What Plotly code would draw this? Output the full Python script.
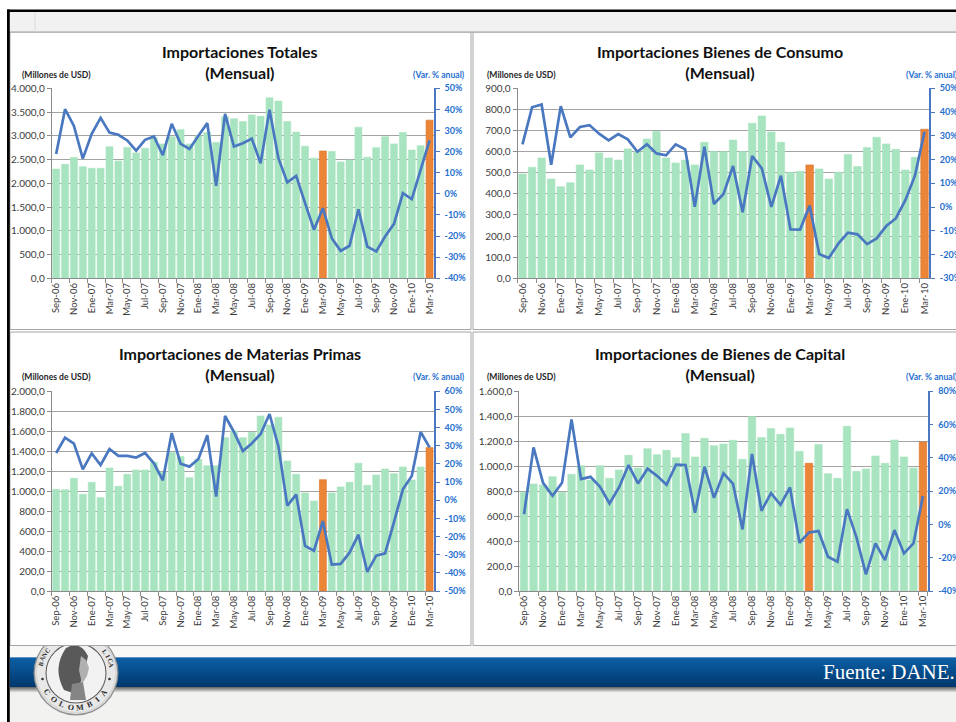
import math
import plotly.graph_objects as go

# ---------------------------------------------------------------- data
months = [
    "Sep-06", "Oct-06", "Nov-06", "Dic-06",
    "Ene-07", "Feb-07", "Mar-07", "Abr-07", "May-07", "Jun-07",
    "Jul-07", "Ago-07", "Sep-07", "Oct-07", "Nov-07", "Dic-07",
    "Ene-08", "Feb-08", "Mar-08", "Abr-08", "May-08", "Jun-08",
    "Jul-08", "Ago-08", "Sep-08", "Oct-08", "Nov-08", "Dic-08",
    "Ene-09", "Feb-09", "Mar-09", "Abr-09", "May-09", "Jun-09",
    "Jul-09", "Ago-09", "Sep-09", "Oct-09", "Nov-09", "Dic-09",
    "Ene-10", "Feb-10", "Mar-10",
]
highlight_months = ["Mar-09", "Mar-10"]

# Importaciones totales (millones de USD) y variación anual (%)
totales_usd = [2300, 2400, 2545, 2350, 2315, 2315, 2770, 2470, 2755, 2640,
               2740, 2960, 2830, 2980, 3130, 2830, 3000, 3070, 2860, 3400,
               3360, 3300, 3440, 3410, 3800, 3730, 3300, 3080, 2780, 2530,
               2680, 2670, 2450, 2490, 3180, 2550, 2750, 2980, 2830, 3070,
               2700, 2790, 3330]
totales_var = [18.9, 40.1, 32.2, 16.7, 28.4, 36.0, 29.0, 28.0, 25.3, 20.5,
               25.6, 27.2, 18.3, 33.2, 23.7, 21.3, 27.5, 33.5, 3.8, 37.9,
               22.4, 24.0, 26.2, 14.5, 39.8, 16.9, 5.4, 8.5, -4.4, -17.0,
               -6.8, -21.0, -27.0, -24.6, -7.3, -25.0, -27.3, -20.2, -14.2, 0.3,
               -2.5, 11.4, 25.3]

# Bienes de consumo
consumo_usd = [494, 526, 570, 470, 434, 453, 537, 513, 594, 570,
               560, 613, 600, 660, 695, 570, 546, 560, 537, 644,
               601, 600, 655, 600, 734, 769, 693, 644, 502, 507,
               537, 518, 470, 502, 587, 529, 619, 668, 636, 611,
               513, 573, 706]
consumo_var = [26.4, 42.0, 43.2, 17.8, 42.5, 29.3, 33.7, 34.5, 30.9, 28.1,
               30.7, 28.5, 23.3, 26.4, 22.6, 21.8, 26.4, 24.3, 0.1, 25.4,
               1.3, 5.5, 17.3, -2.2, 21.5, 16.3, 0.1, 13.2, -9.4, -9.5,
               0.6, -19.8, -21.5, -15.4, -10.8, -11.5, -15.6, -13.2, -8.0, -4.8,
               2.9, 13.2, 31.7]

# Materias primas
materias_usd = [1018, 1015, 1129, 968, 1088, 935, 1232, 1048, 1169, 1212,
                1212, 1289, 1190, 1386, 1346, 1135, 1319, 1255, 1255, 1536,
                1603, 1536, 1589, 1753, 1663, 1740, 1302, 1169, 982, 902,
                1115, 982, 1042, 1088, 1279, 1058, 1162, 1222, 1175, 1242,
                1112, 1242, 1436]
materias_var = [26.0, 34.5, 31.2, 17.0, 25.8, 19.4, 28.2, 24.4, 24.4, 23.5,
                26.0, 20.3, 11.0, 37.0, 20.1, 18.5, 22.7, 35.8, 2.0, 46.4,
                37.6, 27.1, 31.3, 36.5, 47.5, 29.7, -3.0, 3.1, -25.2, -27.8,
                -11.5, -35.5, -35.1, -28.9, -19.0, -39.5, -30.5, -29.3, -12.0, 6.0,
                13.4, 37.6, 29.1]

# Bienes de capital
capital_usd = [791, 857, 849, 916, 791, 935, 1004, 889, 1004, 903,
               970, 1087, 986, 1140, 1092, 1127, 1068, 1261, 1074, 1223,
               1164, 1178, 1207, 1055, 1397, 1229, 1301, 1255, 1306, 1119,
               1023, 1173, 940, 903, 1319, 959, 978, 1082, 1023, 1210,
               1074, 986, 1194]
capital_var = [6.2, 46.3, 25.0, 17.2, 25.0, 63.1, 27.2, 28.6, 22.6, 12.6,
               22.2, 35.7, 24.6, 33.5, 29.2, 23.8, 35.9, 35.7, 7.0, 34.7,
               16.0, 30.8, 24.4, -3.0, 42.3, 8.2, 18.8, 11.8, 22.2, -11.0,
               -4.8, -4.0, -19.4, -22.4, 9.2, -7.8, -30.0, -11.4, -21.4, -3.4,
               -17.4, -11.4, 17.0]

titles = [
    "Importaciones Totales",
    "Importaciones Bienes de Consumo",
    "Importaciones de Materias Primas",
    "Importaciones de Bienes de Capital",
]
subtitle = "(Mensual)"
left_label = "(Millones de USD)"
right_label = "(Var. % anual)"
source_text = "Fuente: DANE."

# ---------------------------------------------------------------- styling
W, H = 956, 722
GREEN = "#a8e4c0"
ORANGE = "#eb8538"
BLUE = "#4a78c0"
AXIS_BLUE = "#1f6fd0"
GRID = "#a3a3a3"
TXT = "#3c3c3c"
FONT = "Lato, 'Open Sans', sans-serif"


def fx(x):
    return x / W


def fy(y):
    return 1 - y / H


panels = [
    dict(bars=totales_usd, var=totales_var, left=(4000, 500), right=(-40, 50, 10),
         xdom=(51.7, 434.0), ydom=(88.3, 278.3), tx=240, ty=62, lx=20, ly=75,
         rx=467, ranchor="right"),
    dict(bars=consumo_usd, var=consumo_var, left=(900, 100), right=(-30, 50, 10),
         xdom=(517.7, 929.3), ydom=(88.3, 278.3), tx=720, ty=62, lx=485, ly=75,
         rx=904, ranchor="left"),
    dict(bars=materias_usd, var=materias_var, left=(2000, 200), right=(-50, 60, 10),
         xdom=(51.7, 434.0), ydom=(391.3, 591.0), tx=240, ty=364, lx=20, ly=377,
         rx=467, ranchor="right"),
    dict(bars=capital_usd, var=capital_var, left=(1600, 200), right=(-40, 80, 20),
         xdom=(519.3, 927.7), ydom=(391.3, 591.0), tx=720, ty=364, lx=485, ly=377,
         rx=904, ranchor="left"),
]

fig = go.Figure()
layout_axes = {}
annotations = []
bar_colors = [ORANGE if m in highlight_months else GREEN for m in months]
bar_edges = ["#d9702a" if m in highlight_months else GREEN for m in months]

for i, p in enumerate(panels):
    xa = "x" if i == 0 else f"x{i + 1}"
    yl = "y" if i == 0 else f"y{2 * i + 1}"
    yr = f"y{2 * i + 2}"
    xkey = "xaxis" if i == 0 else f"xaxis{i + 1}"
    ylkey = "yaxis" if i == 0 else f"yaxis{2 * i + 1}"
    yrkey = f"yaxis{2 * i + 2}"

    fig.add_trace(go.Bar(x=months, y=p["bars"], xaxis=xa, yaxis=yl,
                         marker=dict(color=bar_colors,
                                     line=dict(width=0.6, color=bar_edges)),
                         showlegend=False, hoverinfo="x+y"))
    fig.add_trace(go.Scatter(x=months, y=p["var"], xaxis=xa, yaxis=yr,
                             mode="lines", line=dict(color=BLUE, width=2.7),
                             showlegend=False, hoverinfo="x+y"))

    xdom = [fx(p["xdom"][0]), fx(p["xdom"][1])]
    ydom = [fy(p["ydom"][1]), fy(p["ydom"][0])]
    top, step = p["left"]
    lo, hi, rstep = p["right"]
    rvals = list(range(lo, hi + 1, rstep))

    layout_axes[xkey] = dict(
        domain=xdom, anchor=yl, type="category", range=[-0.5, len(months) - 0.5],
        tickmode="array", tickvals=months[::2], ticktext=months[::2],
        tickangle=-90, tickfont=dict(size=9.5, color=TXT, family=FONT),
        ticks="outside", ticklen=4, tickcolor="#8c8c8c", tickson="boundaries",
        showline=True, linecolor="#8c8c8c", linewidth=1, showgrid=False,
        automargin=False, fixedrange=True)
    layout_axes[ylkey] = dict(
        domain=ydom, anchor=xa, range=[0, top], tick0=0, dtick=step,
        tickformat=",.1f", tickfont=dict(size=10, color=TXT, family=FONT),
        ticks="outside", ticklen=4, tickcolor="#8c8c8c",
        showline=True, linecolor="#8c8c8c", linewidth=1,
        showgrid=True, gridcolor=GRID, gridwidth=1, zeroline=False,
        automargin=False, fixedrange=True)
    layout_axes[yrkey] = dict(
        overlaying=yl, side="right", anchor=xa, range=[lo, hi],
        tickmode="array", tickvals=rvals, ticktext=[f"{v}%" for v in rvals],
        tickfont=dict(size=9, color=AXIS_BLUE, family=FONT, weight="bold"),
        ticks="outside", ticklen=4, tickcolor=BLUE, ticklabelstandoff=3,
        showline=True, linecolor=BLUE, linewidth=1.5,
        showgrid=False, zeroline=False, automargin=False, fixedrange=True)

    annotations.append(dict(
        xref="paper", yref="paper", x=fx(p["tx"]), y=fy(p["ty"]),
        xanchor="center", yanchor="middle", showarrow=False,
        text=f"<b>{titles[i]}</b><br><b>{subtitle}</b>",
        font=dict(size=16, color="#111111", family=FONT)))
    annotations.append(dict(
        xref="paper", yref="paper", x=fx(p["lx"]), y=fy(p["ly"]),
        xanchor="left", yanchor="middle", showarrow=False,
        text=f"<b>{left_label}</b>", font=dict(size=8.6, color="#262626", family=FONT)))
    annotations.append(dict(
        xref="paper", yref="paper", x=fx(p["rx"]), y=fy(p["ly"]),
        xanchor=p["ranchor"], yanchor="middle", showarrow=False,
        text=f"<b>{right_label}</b>", font=dict(size=8.6, color=AXIS_BLUE, family=FONT)))

# ---------------------------------------------------------------- page decoration
shapes = []


def rect(x0, y0, x1, y1, fill, line=None, lw=0):
    shapes.append(dict(type="rect", xref="paper", yref="paper",
                       x0=fx(x0), x1=fx(x1), y0=fy(y1), y1=fy(y0),
                       fillcolor=fill, line=dict(width=lw, color=line or fill),
                       layer="below"))


def circle(cx, cy, r, fill, line=None, lw=0, ry=None):
    ry = r if ry is None else ry
    shapes.append(dict(type="circle", xref="paper", yref="paper",
                       x0=fx(cx - r), x1=fx(cx + r), y0=fy(cy + ry), y1=fy(cy - ry),
                       fillcolor=fill, line=dict(width=lw, color=line or fill),
                       layer="below"))


def mix(c0, c1, t):
    return "rgb({},{},{})".format(*[round(a + (b - a) * t) for a, b in zip(c0, c1)])


# footer background
rect(10, 646, 960, 722, "#f8f8f7")
rect(10, 690, 960, 722, "#f2f2f0")
# blue banner with vertical gradient
BAN_TOP, BAN_BOT = 657, 687
for k in range(BAN_BOT - BAN_TOP):
    t = k / (BAN_BOT - BAN_TOP - 1)
    rect(10, BAN_TOP + k, 960, BAN_TOP + k + 1.05, mix((12, 96, 166), (0, 56, 110), t))
rect(10, BAN_TOP, 960, BAN_TOP + 1, "rgb(96,146,196)")
# soft shadow under the banner
for k in range(6):
    rect(10, BAN_BOT + k, 960, BAN_BOT + k + 1.05, mix((110, 110, 110), (238, 238, 236), k / 5))

# Banco de la República coin emblem
CX, CY = 76, 673
circle(CX, CY, 42.5, "#8f8f8f")
circle(CX, CY, 41.2, "#d9d9d9")
circle(CX, CY, 39, "#e8e8e8")
circle(CX, CY, 30.5, "#5a5a5a")
circle(CX, CY, 29.5, "#f2f2f2")
# head in profile: laurel hair, face and neck
shapes.append(dict(type="path", xref="paper", yref="paper", layer="below",
                   path="M {} {} Q {} {} {} {} Q {} {} {} {} Q {} {} {} {} Z".format(
                       fx(64), fy(690), fx(52), fy(668), fx(66), fy(648),
                       fx(80), fy(640), fx(88), fy(656), fx(84), fy(676), fx(76), fy(694)),
                   fillcolor="#595959", line=dict(width=0)))
shapes.append(dict(type="path", xref="paper", yref="paper", layer="below",
                   path="M {} {} L {} {} L {} {} L {} {} L {} {} L {} {} Z".format(
                       fx(81), fy(656), fx(86), fy(660), fx(89), fy(668),
                       fx(87), fy(676), fx(82), fy(684), fx(79), fy(670)),
                   fillcolor="#b0b0b0", line=dict(width=0)))
shapes.append(dict(type="path", xref="paper", yref="paper", layer="below",
                   path="M {} {} L {} {} L {} {} L {} {} Z".format(
                       fx(72), fy(684), fx(83), fy(682), fx(86), fy(700), fx(70), fy(700)),
                   fillcolor="#858585", line=dict(width=0)))
circle(CX - 33.5, CY + 6, 1.3, "#333333")
circle(CX + 33.5, CY + 6, 1.3, "#333333")

# chart panels
rect(10, 32, 471, 329.5, "white", "#a6a6a6", 1)
rect(473, 32, 962, 329.5, "white", "#a6a6a6", 1)
rect(10, 332, 471, 645.5, "white", "#a6a6a6", 1)
rect(473, 332, 962, 645.5, "white", "#a6a6a6", 1)
# header strip
rect(10, 12, 960, 32, "#f1f1f1")
rect(10, 31.5, 960, 32.5, "#a0a0a0")
rect(34.5, 12, 35.5, 31.5, "#dcdcdc")
# window frame
rect(7, 9.5, 960, 12, "#000000")
rect(7, 9.5, 9.8, 722, "#000000")

# lettering around the coin
ring_top = "BANCO DE LA REPUBLICA"
ring_bottom = "COLOMBIA"
for j, ch in enumerate(ring_top):
    th = 165 - j * (153 / (len(ring_top) - 1))
    r = 36.5
    x = CX + r * math.cos(math.radians(th))
    y = CY - r * math.sin(math.radians(th))
    if y < 650 or ch == " ":
        continue
    annotations.append(dict(xref="paper", yref="paper", x=fx(x), y=fy(y),
                            text=f"<b>{ch}</b>", showarrow=False, textangle=90 - th,
                            xanchor="center", yanchor="middle",
                            font=dict(size=6.5, color="#2a2a2a", family="Liberation Serif")))
for j, ch in enumerate(ring_bottom):
    th = 214 + j * (111 / (len(ring_bottom) - 1))
    r = 34.5
    x = CX + r * math.cos(math.radians(th))
    y = CY - r * math.sin(math.radians(th))
    annotations.append(dict(xref="paper", yref="paper", x=fx(x), y=fy(y),
                            text=f"<b>{ch}</b>", showarrow=False, textangle=270 - th,
                            xanchor="center", yanchor="middle",
                            font=dict(size=8, color="#2a2a2a", family="Liberation Serif")))

annotations.append(dict(xref="paper", yref="paper", x=fx(957), y=fy(672),
                        xanchor="right", yanchor="middle", showarrow=False,
                        text=source_text,
                        font=dict(size=21, color="white", family="Liberation Serif, serif")))

fig.update_layout(
    width=W, height=H, margin=dict(l=0, r=0, t=0, b=0),
    paper_bgcolor="white", plot_bgcolor="rgba(0,0,0,0)",
    bargap=0.22, separators=",.", showlegend=False,
    font=dict(family=FONT, color=TXT),
    shapes=shapes, annotations=annotations,
    **layout_axes,
)

fig.write_html("out.html")
